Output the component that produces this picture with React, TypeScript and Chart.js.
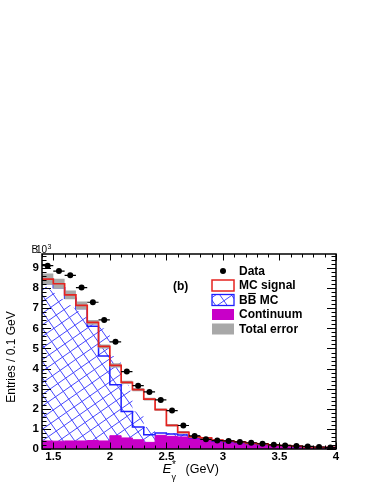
import React, { useEffect, useRef } from 'react';
import { Chart, registerables } from 'chart.js';

Chart.register(...registerables);

// ---------------- data (values in thousands of entries) ----------------
const binCenters = [
  1.45, 1.55, 1.65, 1.75, 1.85, 1.95, 2.05, 2.15, 2.25, 2.35, 2.45, 2.55, 2.65,
  2.75, 2.85, 2.95, 3.05, 3.15, 3.25, 3.35, 3.45, 3.55, 3.65, 3.75, 3.85, 3.95,
];
const BIN_WIDTH = 0.1;

const dataValues = [
  9.12, 8.85, 8.64, 8.03, 7.30, 6.42, 5.33, 3.85, 3.15, 2.84, 2.44, 1.91, 1.17,
  0.65, 0.48, 0.42, 0.40, 0.35, 0.31, 0.26, 0.21, 0.18, 0.15, 0.13, 0.10, 0.07,
];
const continuum = [
  0.43, 0.40, 0.39, 0.40, 0.40, 0.42, 0.40, 0.66, 0.55, 0.46, 0.33, 0.68, 0.63,
  0.60, 0.52, 0.47, 0.38, 0.33, 0.30, 0.24, 0.21, 0.18, 0.15, 0.12, 0.09, 0.06,
];
const bbMC = [
  7.90, 7.82, 7.63, 7.10, 6.59, 5.68, 4.22, 2.54, 1.32, 0.63, 0.38, 0.12, 0.12,
  0.10, 0.04, 0.03, 0.03, 0.03, 0.02, 0.02, 0.02, 0.02, 0.01, 0.01, 0.01, 0.01,
];
const mcSignal = [
  0.23, 0.23, 0.20, 0.17, 0.15, 0.20, 0.48, 0.96, 1.44, 1.86, 1.77, 1.16, 0.43,
  0.13, 0.04, 0.05, 0.03, 0.03, 0.03, 0.02, 0.02, 0.01, 0.01, 0.01, 0.01, 0.01,
];
const totalError = [
  0.28, 0.28, 0.25, 0.22, 0.20, 0.12, 0.10, 0.10, 0.08, 0.08, 0.07, 0.06, 0.06,
  0.06, 0.05, 0.05, 0.04, 0.04, 0.03, 0.03, 0.03, 0.03, 0.02, 0.02, 0.02, 0.02,
];
// outline of the hatch fill as it appears in the figure (GeV, thousands)
const hatchEdgeX = [1.4, 1.9, 2.0, 2.2, 2.3, 2.45, 2.5, 2.5, 4.0];
const hatchEdgeY = [8.25, 6.08, 5.9, 2.6, 1.6, 0.71, 0.45, 1.0, 1.0];

const xTickValues = [1.5, 2, 2.5, 3, 3.5, 4];
const yTickValues = [0, 1, 2, 3, 4, 5, 6, 7, 8, 9];
const legendLabels = ['Data', 'MC signal', 'BB MC', 'Continuum', 'Total error'];

// ---------------- style ----------------
const FONT = '"Liberation Sans", Arial, Helvetica, sans-serif';
const RED = '#e5231f';
const BLUE = '#1f1fff';
const HATCH = '#4646ff';
const MAGENTA = '#c800c8';
const GRAY = '#a8a8a8';
const W = 374;
const H = 484;

const bbStack = bbMC.map((v, i) => v + continuum[i]);
const totalStack = bbStack.map((v, i) => v + mcSignal[i]);

function stepPoints(vals: number[]) {
  const pts = vals.map((v, i) => ({ x: binCenters[i] - BIN_WIDTH / 2, y: v }));
  pts.push({ x: binCenters[vals.length - 1] + BIN_WIDTH / 2, y: vals[vals.length - 1] });
  return pts;
}

function drawHatchLines(ctx: CanvasRenderingContext2D, ox: number, oy: number, spacing: number, angleDeg: number) {
  ctx.save();
  ctx.translate(ox, oy);
  ctx.rotate((angleDeg * Math.PI) / 180);
  const R = 700;
  ctx.beginPath();
  for (let k = -R; k <= R; k += spacing) {
    ctx.moveTo(-R, k);
    ctx.lineTo(R, k);
    ctx.moveTo(k, -R);
    ctx.lineTo(k, R);
  }
  ctx.strokeStyle = HATCH;
  ctx.lineWidth = 0.9;
  ctx.stroke();
  ctx.restore();
}

const hatchPlugin = {
  id: 'bbHatch',
  beforeDatasetsDraw(chart: any) {
    const { ctx, chartArea: a, scales } = chart;
    const x = scales.x;
    const y = scales.y;
    ctx.save();
    ctx.beginPath();
    ctx.rect(a.left, a.top, a.right - a.left, a.bottom - a.top);
    ctx.clip();
    // clip to BB stacked histogram
    ctx.beginPath();
    ctx.moveTo(x.getPixelForValue(binCenters[0] - BIN_WIDTH / 2), y.getPixelForValue(0));
    bbStack.forEach((v, i) => {
      ctx.lineTo(x.getPixelForValue(binCenters[i] - BIN_WIDTH / 2), y.getPixelForValue(v));
      ctx.lineTo(x.getPixelForValue(binCenters[i] + BIN_WIDTH / 2), y.getPixelForValue(v));
    });
    ctx.lineTo(x.getPixelForValue(binCenters[binCenters.length - 1] + BIN_WIDTH / 2), y.getPixelForValue(0));
    ctx.closePath();
    ctx.clip();
    // clip to the hatch outline
    ctx.beginPath();
    ctx.moveTo(x.getPixelForValue(hatchEdgeX[0]), y.getPixelForValue(0));
    hatchEdgeX.forEach((hx, i) => ctx.lineTo(x.getPixelForValue(hx), y.getPixelForValue(hatchEdgeY[i])));
    ctx.lineTo(x.getPixelForValue(hatchEdgeX[hatchEdgeX.length - 1]), y.getPixelForValue(0));
    ctx.closePath();
    ctx.clip();
    drawHatchLines(ctx, a.left, a.bottom, 9.5, -35);
    ctx.restore();
  },
};

const decorPlugin = {
  id: 'decor',
  afterDraw(chart: any) {
    const { ctx, chartArea: a, scales } = chart;
    const x = scales.x;
    const y = scales.y;
    ctx.save();

    // data error bars (bin width)
    ctx.strokeStyle = '#000';
    ctx.lineWidth = 1.2;
    ctx.beginPath();
    dataValues.forEach((v, i) => {
      const py = y.getPixelForValue(v);
      ctx.moveTo(x.getPixelForValue(binCenters[i] - BIN_WIDTH / 2), py);
      ctx.lineTo(x.getPixelForValue(binCenters[i] + BIN_WIDTH / 2), py);
    });
    ctx.stroke();

    // frame
    ctx.lineWidth = 1.5;
    ctx.strokeStyle = '#000';
    ctx.strokeRect(a.left, a.top, a.right - a.left, a.bottom - a.top);

    // x ticks (minor every bin)
    ctx.lineWidth = 1;
    ctx.beginPath();
    for (let k = 14; k <= 40; k++) {
      const v = k / 10;
      const px = Math.round(x.getPixelForValue(v)) + 0.5;
      const len = k % 5 === 0 ? 6.5 : 3.5;
      ctx.moveTo(px, a.bottom);
      ctx.lineTo(px, a.bottom - len);
      ctx.moveTo(px, a.top);
      ctx.lineTo(px, a.top + len);
    }
    // y ticks
    for (let k = 0; k <= 48; k++) {
      const v = k * 0.2;
      const py = Math.round(y.getPixelForValue(v)) + 0.5;
      const len = k % 5 === 0 ? 9 : 4.5;
      ctx.moveTo(a.left, py);
      ctx.lineTo(a.left + len, py);
      ctx.moveTo(a.right, py);
      ctx.lineTo(a.right - len, py);
    }
    ctx.stroke();

    // axis titles
    ctx.fillStyle = '#000';
    ctx.textBaseline = 'alphabetic';
    ctx.textAlign = 'left';
    ctx.font = `italic 13.5px ${FONT}`;
    ctx.fillText('E', 162.5, 473);
    ctx.font = `10px ${FONT}`;
    ctx.fillText('*', 172, 468);
    ctx.font = `9px ${FONT}`;
    ctx.fillText('γ', 171.5, 480);
    ctx.font = `12.5px ${FONT}`;
    ctx.fillText('(GeV)', 185.5, 473);

    ctx.save();
    ctx.translate(14.5, 357);
    ctx.rotate(-Math.PI / 2);
    ctx.textAlign = 'center';
    ctx.font = `12px ${FONT}`;
    ctx.fillText('Entries / 0.1 GeV', 0, 0);
    ctx.restore();

    // exponent label
    ctx.font = `10px ${FONT}`;
    ctx.fillText('B', 31.5, 253);
    ctx.fillText('10', 36, 253);
    ctx.font = `7px ${FONT}`;
    ctx.fillText('3', 47.5, 249);

    // panel label
    ctx.font = `bold 12px ${FONT}`;
    ctx.textBaseline = 'middle';
    ctx.fillText('(b)', 173, 287);

    // legend
    const bx = 212;
    const bw = 22;
    const bh = 11;
    const tx = 239;
    const y0 = 271;
    const dy = 14.5;
    legendLabels.forEach((lab, i) => {
      const cy = y0 + i * dy;
      const top = cy - bh / 2;
      if (i === 0) {
        ctx.beginPath();
        ctx.arc(bx + bw / 2, cy, 3, 0, Math.PI * 2);
        ctx.fillStyle = '#000';
        ctx.fill();
      } else if (i === 1) {
        ctx.fillStyle = '#fff';
        ctx.fillRect(bx, top, bw, bh);
        ctx.strokeStyle = RED;
        ctx.lineWidth = 1.5;
        ctx.strokeRect(bx, top, bw, bh);
      } else if (i === 2) {
        ctx.save();
        ctx.beginPath();
        ctx.rect(bx, top, bw, bh);
        ctx.clip();
        drawHatchLines(ctx, bx, top + bh, 9.5, -35);
        ctx.restore();
        ctx.strokeStyle = BLUE;
        ctx.lineWidth = 1.3;
        ctx.strokeRect(bx, top, bw, bh);
      } else if (i === 3) {
        ctx.fillStyle = MAGENTA;
        ctx.fillRect(bx, top, bw, bh);
      } else {
        ctx.fillStyle = GRAY;
        ctx.fillRect(bx, top, bw, bh);
      }
      ctx.fillStyle = '#000';
      ctx.font = `bold 12px ${FONT}`;
      ctx.textBaseline = 'middle';
      ctx.fillText(lab, tx, cy + 0.5);
      if (i === 2) {
        const wB = ctx.measureText('B').width;
        ctx.strokeStyle = '#000';
        ctx.lineWidth = 1.1;
        ctx.beginPath();
        ctx.moveTo(tx + wB + 0.5, cy - 6.5);
        ctx.lineTo(tx + 2 * wB - 0.5, cy - 6.5);
        ctx.stroke();
      }
    });

    ctx.restore();
  },
};

export default function App() {
  const ref = useRef<HTMLCanvasElement | null>(null);

  useEffect(() => {
    if (!ref.current) return;
    const transparent = 'rgba(0,0,0,0)';
    const chart = new Chart(ref.current, {
      type: 'line',
      data: {
        datasets: [
          {
            type: 'scatter',
            label: 'Data',
            data: dataValues.map((v, i) => ({ x: binCenters[i], y: v })),
            pointRadius: 3,
            pointBackgroundColor: '#000',
            pointBorderWidth: 0,
            order: 0,
          } as any,
          {
            label: 'MC signal',
            data: stepPoints(totalStack),
            stepped: 'after',
            borderColor: RED,
            borderWidth: 1.7,
            pointRadius: 0,
            fill: false,
            order: 1,
          },
          {
            label: 'Total error',
            data: stepPoints(totalStack.map((v, i) => v + totalError[i])),
            stepped: 'after',
            borderColor: transparent,
            borderWidth: 0,
            pointRadius: 0,
            backgroundColor: GRAY,
            fill: { target: 3 },
            order: 2,
          },
          {
            label: 'Total error low',
            data: stepPoints(totalStack.map((v, i) => v - totalError[i])),
            stepped: 'after',
            borderColor: transparent,
            borderWidth: 0,
            pointRadius: 0,
            fill: false,
            order: 2,
          },
          {
            label: 'BB MC',
            data: stepPoints(bbStack),
            stepped: 'after',
            borderColor: BLUE,
            borderWidth: 1.5,
            pointRadius: 0,
            fill: false,
            order: 3,
          },
          {
            label: 'Continuum',
            data: stepPoints(continuum),
            stepped: 'after',
            borderColor: MAGENTA,
            borderWidth: 1,
            pointRadius: 0,
            backgroundColor: MAGENTA,
            fill: 'origin',
            order: 4,
          },
        ],
      },
      options: {
        animation: false,
        responsive: false,
        devicePixelRatio: 1,
        layout: { padding: { left: 0, right: 38, top: 254, bottom: 0 } },
        plugins: {
          legend: { display: false },
          tooltip: { enabled: false },
        },
        scales: {
          x: {
            type: 'linear',
            min: 1.4,
            max: 4.0,
            afterFit: (s: any) => {
              s.height = 35;
            },
            afterBuildTicks: (s: any) => {
              s.ticks = xTickValues.map((v) => ({ value: v }));
            },
            grid: { display: false, drawTicks: false },
            border: { display: false },
            ticks: {
              autoSkip: false,
              maxRotation: 0,
              padding: 1,
              color: '#000',
              font: { family: FONT, size: 11.5, weight: 'bold' },
              callback: (v: any) => String(v),
            },
          },
          y: {
            type: 'linear',
            min: 0,
            max: 9.7,
            afterFit: (s: any) => {
              s.width = 42;
            },
            afterBuildTicks: (s: any) => {
              s.ticks = yTickValues.map((v) => ({ value: v }));
            },
            grid: { display: false, drawTicks: false },
            border: { display: false },
            ticks: {
              autoSkip: false,
              padding: 3,
              color: '#000',
              font: { family: FONT, size: 11.5, weight: 'bold' },
              callback: (v: any) => String(v),
            },
          },
        },
      } as any,
      plugins: [hatchPlugin, decorPlugin],
    });
    return () => chart.destroy();
  }, []);

  return (
    <div style={{ position: 'fixed', left: 0, top: 0, width: W, height: H, background: '#fff' }}>
      <canvas ref={ref} width={W} height={H} style={{ display: 'block', width: W, height: H }} />
    </div>
  );
}
